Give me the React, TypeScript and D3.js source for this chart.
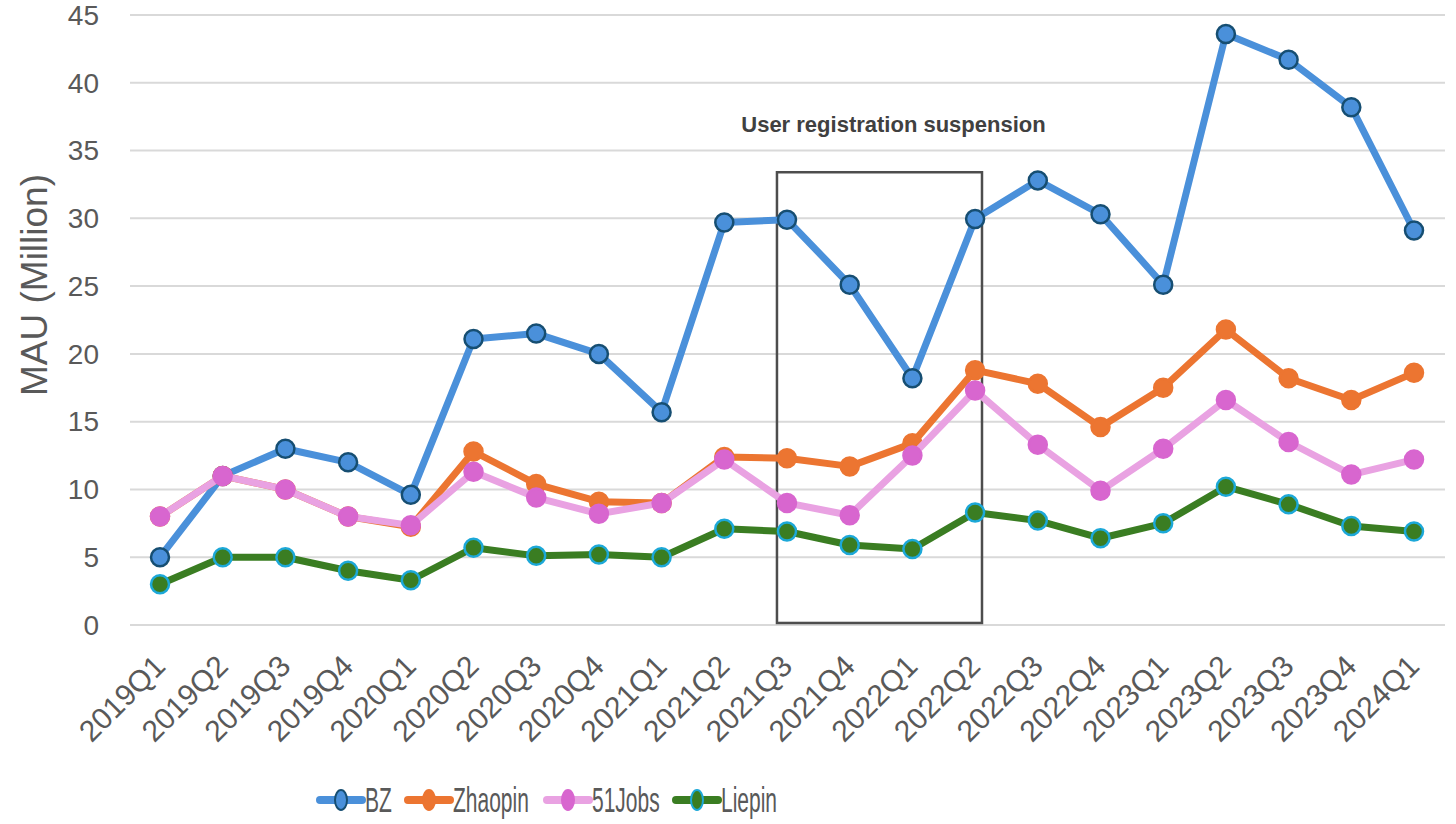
import React from "react";
import * as d3 from "d3";

const quarters = [
    "2019Q1", "2019Q2", "2019Q3", "2019Q4",
    "2020Q1", "2020Q2", "2020Q3", "2020Q4",
    "2021Q1", "2021Q2", "2021Q3", "2021Q4",
    "2022Q1", "2022Q2", "2022Q3", "2022Q4",
    "2023Q1", "2023Q2", "2023Q3", "2023Q4",
    "2024Q1"
];

const bzValues = [5.0, 11.0, 13.0, 12.0, 9.6, 21.1, 21.5, 20.0, 15.7, 29.7, 29.9, 25.1, 18.2, 29.95, 32.8, 30.3, 25.1, 43.6, 41.7, 38.2, 29.1];
const zhaopinValues = [8.0, 11.0, 10.0, 8.0, 7.25, 12.8, 10.4, 9.1, 9.0, 12.4, 12.3, 11.7, 13.4, 18.8, 17.8, 14.6, 17.5, 21.8, 18.2, 16.6, 18.6];
const jobs51Values = [8.0, 11.0, 10.0, 8.0, 7.35, 11.3, 9.4, 8.2, 9.0, 12.2, 9.0, 8.1, 12.5, 17.3, 13.3, 9.9, 13.0, 16.6, 13.5, 11.1, 12.2];
const liepinValues = [3.0, 5.0, 5.0, 4.0, 3.3, 5.7, 5.1, 5.2, 5.0, 7.1, 6.9, 5.9, 5.6, 8.3, 7.7, 6.4, 7.5, 10.2, 8.9, 7.3, 6.9];

const yTicks = [0, 5, 10, 15, 20, 25, 30, 35, 40, 45];

const seriesNames = ["BZ", "Zhaopin", "51Jobs", "Liepin"];

// suspension window, in data terms
const boxFrom = "2021Q3";
const boxTo = "2022Q2";
const boxTop = 33.4;
const annotation = "User registration suspension";

interface Series {
    name: string;
    values: number[];
    line: string;
    fill: string;
    stroke: string;
}

const series: Series[] = [
    {name: seriesNames[0], values: bzValues, line: "#4A90DA", fill: "#4A90DA", stroke: "#164E72"},
    {name: seriesNames[1], values: zhaopinValues, line: "#EC7531", fill: "#EC7531", stroke: "#EC7531"},
    {name: seriesNames[2], values: jobs51Values, line: "#E9A2E2", fill: "#D866CF", stroke: "#D866CF"},
    {name: seriesNames[3], values: liepinValues, line: "#3A7D22", fill: "#3A7D22", stroke: "#1CA8D8"},
];

const width = 1456;
const height = 824;
const font = "'Liberation Sans', Arial, sans-serif";

export default function App(): JSX.Element {
    const x = d3.scalePoint<string>().domain(quarters).range([160, 1414]);
    const y = d3.scaleLinear().domain([0, 45]).range([625, 15]);
    const step = x.step();

    const line = d3.line<number>()
        .x((_, i) => x(quarters[i]) || 0)
        .y(d => y(d));

    const boxLeft = (x(boxFrom) || 0) - step * 0.16;
    const boxRight = (x(boxTo) || 0) + step * 0.11;

    // legend positions
    const legendX = [320, 408, 547, 676];
    const legendY = 800;

    return (
        <svg width={width} height={height} style={{position: "absolute", left: 0, top: 0, background: "#fff"}}>
            {/* grid */}
            <g>
                {yTicks.map(t => (
                    <line key={t} x1={130} x2={1445} y1={y(t)} y2={y(t)} stroke="#D9D9D9" strokeWidth={2}/>
                ))}
            </g>
            {/* y ticks */}
            <g fontFamily={font} fontSize={28} fill="#595959" textAnchor="end">
                {yTicks.map(t => (
                    <text key={t} x={99} y={y(t)} dy="0.35em">{t}</text>
                ))}
            </g>
            <text
                transform={`translate(47, 285) rotate(-90)`}
                textAnchor="middle"
                fontFamily={font}
                fontSize={37}
                fill="#595959"
            >MAU (Million)</text>
            {/* x ticks */}
            <g fontFamily={font} fontSize={30} fill="#595959" textAnchor="end">
                {quarters.map(q => (
                    <text key={q} transform={`translate(${(x(q) || 0) + 7}, ${668}) rotate(-45)`}>{q}</text>
                ))}
            </g>
            {/* annotation box */}
            <rect
                x={boxLeft}
                y={y(boxTop)}
                width={boxRight - boxLeft}
                height={y(0.15) - y(boxTop)}
                fill="none"
                stroke="#4D4D4D"
                strokeWidth={2.5}
            />
            <text
                x={(boxLeft + boxRight) / 2 + 14}
                y={132}
                textAnchor="middle"
                fontFamily={font}
                fontWeight="bold"
                fontSize={22}
                fill="#404040"
            >{annotation}</text>
            {/* series */}
            {series.map(s => (
                <g key={s.name}>
                    <path d={line(s.values) || ""} fill="none" stroke={s.line} strokeWidth={7} strokeLinejoin="round"/>
                    {s.values.map((v, i) => (
                        <circle key={i} cx={x(quarters[i])} cy={y(v)} r={9} fill={s.fill} stroke={s.stroke} strokeWidth={2.5}/>
                    ))}
                </g>
            ))}
            {/* legend */}
            <g>
                {series.map((s, i) => (
                    <g key={s.name}>
                        <line x1={legendX[i]} x2={legendX[i] + 42} y1={legendY} y2={legendY} stroke={s.line} strokeWidth={8} strokeLinecap="round"/>
                        <ellipse cx={legendX[i] + 21} cy={legendY} rx={6} ry={10} fill={s.fill} stroke={s.stroke} strokeWidth={2}/>
                        <text
                            transform={`translate(${legendX[i] + 45}, ${legendY + 12}) scale(0.6, 1)`}
                            fontFamily={font}
                            fontSize={35}
                            fill="#595959"
                        >{s.name}</text>
                    </g>
                ))}
            </g>
        </svg>
    );
}
